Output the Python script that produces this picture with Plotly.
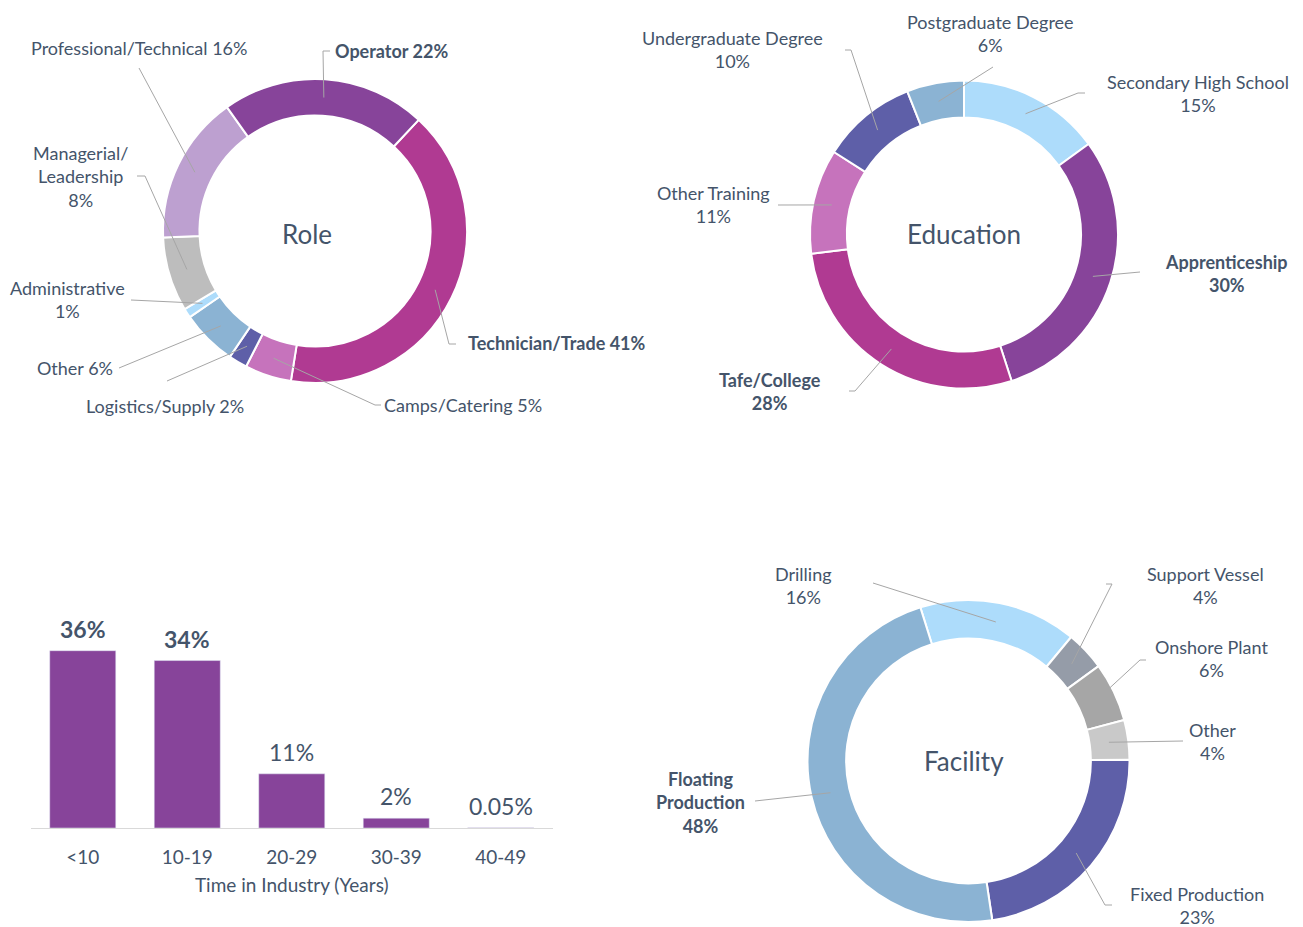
import math
import plotly.graph_objects as go

W, H = 1303, 927

# ---------------- data ----------------
role_labels = ["Technician/Trade", "Camps/Catering", "Logistics/Supply", "Other",
               "Administrative", "Managerial/Leadership", "Professional/Technical", "Operator"]
role_values = [41, 5, 2, 6, 1, 8, 16, 22]

edu_labels = ["Secondary High School", "Apprenticeship", "Tafe/College", "Other Training",
              "Undergraduate Degree", "Postgraduate Degree"]
edu_values = [15, 30, 28, 11, 10, 6]

fac_labels = ["Drilling", "Support Vessel", "Onshore Plant", "Other",
              "Fixed Production", "Floating Production"]
fac_values = [16, 4, 6, 4, 23, 48]

years_labels = ["<10", "10-19", "20-29", "30-39", "40-49"]
years_values = [36, 34, 11, 2, 0.05]

# ---------------- styles ----------------
FONT = "Lato"
TXT = "#44546A"
LEAD = "#A6A6A6"
LABEL_SIZE = 18

role_colors = ["#B03A92", "#C673BC", "#5E5FA8", "#8BB3D3", "#ADDCFB", "#BDBDBD", "#BDA0D0", "#87449A"]
edu_colors = ["#ADDCFB", "#87449A", "#B03A92", "#C673BC", "#5E5FA8", "#8BB3D3"]
fac_colors = ["#ADDCFB", "#959CA8", "#A6A6A6", "#C9C9C9", "#5E5FA8", "#8BB3D3"]

display_names = {"Managerial/Leadership": "Managerial/<br>Leadership",
                 "Floating Production": "Floating<br>Production"}

# label layout: (text center x, text center y, separator, bold, leader elbow points)
role_layout = [
    (557, 343, " ", True, [(449, 344), (456, 344)]),
    (463, 405, " ", False, [(375, 405), (381, 405)]),
    (165, 406, " ", False, [(167, 381)]),
    (75, 368, " ", False, [(119, 368)]),
    (67, 300, "<br>", False, [(131, 300)]),
    (80, 176, "<br>", False, [(145, 176), (137, 176)]),
    (139, 48, " ", False, [(139, 68)]),
    (391, 51, " ", True, [(323, 51), (330, 51)]),
]
edu_layout = [
    (1198, 93, "<br>", False, [(1078, 93), (1085, 93)]),
    (1226, 274, "<br>", True, [(1140, 272)]),
    (770, 391, "<br>", True, [(855, 391), (849, 391)]),
    (714, 205, "<br>", False, [(778, 205)]),
    (732, 50, "<br>", False, [(851, 50), (845, 50)]),
    (990, 33, "<br>", False, [(993, 67)]),
]
fac_layout = [
    (804, 585, "<br>", False, [(873, 583)]),
    (1205, 585, "<br>", False, [(1112, 584), (1106, 584)]),
    (1211, 658, "<br>", False, [(1140, 660), (1146, 660)]),
    (1212, 741, "<br>", False, [(1183, 741)]),
    (1197, 905, "<br>", False, [(1105, 905), (1112, 905)]),
    (701, 802, "<br>", True, [(755, 801)]),
]

HOLE = 0.76


def px(x):
    return x / W


def py(y):
    return 1 - y / H


fig = go.Figure()
shapes = []
annotations = []


def add_donut(labels, values, colors, cx, cy, r, rotation, layout_specs, title, tpos):
    fig.add_trace(go.Pie(
        labels=labels, values=values, hole=HOLE, sort=False, direction="clockwise",
        rotation=rotation, textinfo="none", showlegend=False,
        marker=dict(colors=colors, line=dict(color="white", width=2)),
        domain=dict(x=[px(cx - r), px(cx + r)], y=[py(cy + r), py(cy - r)]),
    ))
    total = sum(values)
    cum = 0
    rm = r * (1 + HOLE) / 2
    for lab, v, spec in zip(labels, values, layout_specs):
        tx, ty, sep, bold, pts = spec
        ang = math.radians(rotation + 360 * (cum + v / 2) / total)
        cum += v
        sx, sy = cx + rm * math.sin(ang), cy - rm * math.cos(ang)
        path = "M {} {}".format(px(sx), py(sy))
        for (x, y) in pts:
            path += " L {} {}".format(px(x), py(y))
        shapes.append(dict(type="path", path=path, xref="paper", yref="paper",
                           line=dict(color=LEAD, width=1)))
        text = display_names.get(lab, lab) + sep + "{:g}%".format(v)
        if bold:
            text = "<b>" + text + "</b>"
        annotations.append(dict(x=px(tx), y=py(ty), xref="paper", yref="paper", text=text,
                                showarrow=False, xanchor="center", yanchor="middle",
                                font=dict(family=FONT, size=LABEL_SIZE, color=TXT)))
    annotations.append(dict(x=px(tpos[0]), y=py(tpos[1]), xref="paper", yref="paper",
                            text=title, showarrow=False, xanchor="center", yanchor="middle",
                            font=dict(family=FONT, size=26, color=TXT)))


add_donut(role_labels, role_values, role_colors, 315, 231, 152, 43, role_layout, "Role", (307, 234))
add_donut(edu_labels, edu_values, edu_colors, 964, 234.5, 154, 0, edu_layout, "Education", (964, 234))
add_donut(fac_labels, fac_values, fac_colors, 968.5, 761, 161, -17.4, fac_layout, "Facility", (964, 761))

# ---------------- bar chart ----------------
bar_bold = [True, True, False, False, False]
fig.add_trace(go.Bar(x=years_labels, y=years_values, marker=dict(color="#87449A"),
                     showlegend=False, xaxis="x", yaxis="y"))
for lab, v, b in zip(years_labels, years_values, bar_bold):
    t = "{:g}%".format(v)
    if b:
        t = "<b>" + t + "</b>"
    annotations.append(dict(x=lab, y=v, xref="x", yref="y", text=t, showarrow=False,
                            yanchor="bottom", yshift=6,
                            font=dict(family=FONT, size=23, color=TXT)))

fig.update_layout(
    width=W, height=H, margin=dict(l=0, r=0, t=0, b=0),
    paper_bgcolor="white", plot_bgcolor="white",
    bargap=0.368,
    xaxis=dict(domain=[px(30.5), px(553)], anchor="y", type="category",
               showline=True, linecolor="#D9D9D9", linewidth=1, showgrid=False,
               ticks="outside", ticklen=12, tickcolor="rgba(0,0,0,0)",
               tickfont=dict(family=FONT, size=19, color=TXT),
               title=dict(text="Time in Industry (Years)", standoff=11,
                          font=dict(family=FONT, size=19, color=TXT))),
    yaxis=dict(domain=[py(828), py(631)], range=[0, 40], visible=False),
    shapes=shapes, annotations=annotations,
)

fig.write_html("out.html", config={"displayModeBar": False},
               post_script="document.body.style.margin='0';")
